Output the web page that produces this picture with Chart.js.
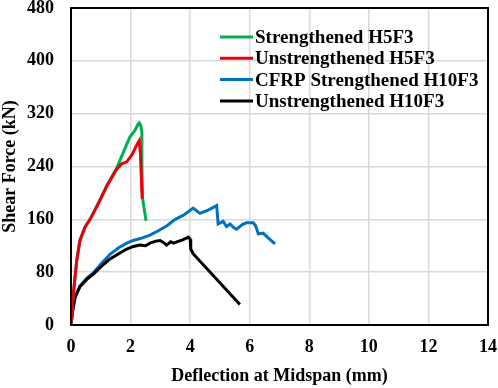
<!DOCTYPE html>
<html>
<head>
<meta charset="utf-8">
<script src="https://cdn.jsdelivr.net/npm/chart.js@4.4.1/dist/chart.umd.min.js"></script>
<style>
  body { margin: 0; background: #fff; }
  canvas { display: block; }
</style>
</head>
<body>
<canvas id="shearChart" width="498" height="388"></canvas>
<script>
// series labels + colours
const seriesNames = ["Strengthened H5F3", "Unstrengthened H5F3", "CFRP Strengthened H10F3", "Unstrengthened H10F3"];
const seriesColors = ["#00b050", "#e8000b", "#0070c0", "#000000"];
const drawOrder = [1, 0, 3, 2]; // red over green, black over blue

// deflection (mm) / shear force (kN)
const greenX = [0, 0.08, 0.19, 0.3, 0.47, 0.64, 0.9, 1.2, 1.53, 1.64, 1.98, 2.15, 2.25, 2.29, 2.34, 2.38, 2.38, 2.4, 2.46, 2.52];
const greenY = [0, 47, 97, 128, 148, 160, 183, 211, 237, 249, 285, 295, 304, 306, 302, 292, 240, 193, 175, 158];

const redX = [0, 0.08, 0.19, 0.3, 0.47, 0.64, 0.9, 1.2, 1.53, 1.7, 1.87, 2.05, 2.2, 2.29, 2.33, 2.36, 2.39];
const redY = [0, 47, 97, 128, 148, 160, 182, 210, 236, 244, 247, 258, 272, 279, 260, 225, 191];

const blueX = [0, 0.05, 0.13, 0.3, 0.53, 0.75, 1.0, 1.31, 1.6, 1.87, 2.09, 2.4, 2.65, 2.9, 3.21, 3.5, 3.8, 4.1, 4.33, 4.6, 4.78, 4.89, 4.94, 5.11, 5.22, 5.34, 5.45, 5.56, 5.75, 5.9, 6.12, 6.2, 6.29, 6.45, 6.62, 6.85];
const blueY = [0, 20, 41, 59, 71, 79, 92, 107, 117, 124, 128, 132, 136, 142, 150, 160, 167, 177, 169, 174, 178, 181, 153, 157, 149, 153, 148, 145, 152, 155, 155, 150, 138, 139, 132, 123];

const blackX = [0, 0.05, 0.13, 0.3, 0.53, 0.75, 1.0, 1.31, 1.6, 1.87, 2.1, 2.32, 2.5, 2.65, 2.85, 2.99, 3.1, 3.21, 3.35, 3.45, 3.55, 3.75, 3.94, 4.0, 4.02, 4.1, 5.67];
const blackY = [0, 20, 41, 58, 69, 77, 88, 100, 108, 115, 119, 121, 120, 124, 127, 128, 125, 121, 126, 124, 126, 129, 133, 130, 115, 108, 31];

const allX = [greenX, redX, blueX, blackX];
const allY = [greenY, redY, blueY, blackY];

const serif = "'Times New Roman', 'Liberation Serif', serif";

function toPoints(xs, ys) {
    return xs.map((x, i) => ({ x: x, y: ys[i] }));
}

// frame around plot + legend drawn inside the plot area
const framePlugin = {
    id: "frameAndLegend",
    afterDatasetsDraw(chart) {
        const ctx = chart.ctx;
        const a = chart.chartArea;
        ctx.save();
        ctx.strokeStyle = "#000";
        ctx.lineWidth = 2;
        ctx.strokeRect(a.left, a.top, a.right - a.left, a.bottom - a.top);

        const x0 = a.left + 149;
        const y0 = a.top + 29;
        ctx.font = "bold 19px " + serif;
        ctx.textBaseline = "middle";
        ctx.textAlign = "left";
        chart.data.datasets.forEach((ds, i) => {
            const y = y0 + i * 21.3;
            ctx.strokeStyle = ds.borderColor;
            ctx.lineWidth = 3;
            ctx.beginPath();
            ctx.moveTo(x0, y);
            ctx.lineTo(x0 + 33, y);
            ctx.stroke();
            ctx.fillStyle = "#000";
            ctx.fillText(ds.label, x0 + 35, y + 1);
        });
        ctx.restore();
    }
};

const datasets = seriesNames.map((name, i) => ({
    label: name,
    data: toPoints(allX[i], allY[i]),
    borderColor: seriesColors[i],
    backgroundColor: seriesColors[i],
    borderWidth: 3,
    showLine: true,
    pointRadius: 0,
    tension: 0,
    order: drawOrder[i]
}));

new Chart(document.getElementById("shearChart"), {
    type: "scatter",
    data: { datasets: datasets },
    options: {
        responsive: false,
        animation: false,
        layout: { padding: { top: 8, right: 10, left: 0, bottom: 0 } },
        plugins: {
            legend: { display: false },
            tooltip: { enabled: false }
        },
        scales: {
            x: {
                min: 0,
                max: 14,
                ticks: { stepSize: 2, color: "#000", padding: 12, font: { family: serif, size: 18, weight: "bold" } },
                grid: { color: "#d9d9d9", lineWidth: 1.5, drawTicks: false },
                border: { display: false },
                title: {
                    display: true,
                    text: "Deflection at Midspan (mm)",
                    color: "#000",
                    padding: { top: 0, bottom: 1 },
                    font: { family: serif, size: 18, weight: "bold" }
                },
                afterFit(scale) {
                    scale.height = 63;
                    scale.paddingLeft = 0;
                    scale.paddingRight = 0;
                }
            },
            y: {
                min: 0,
                max: 480,
                ticks: { stepSize: 80, color: "#000", padding: 17, font: { family: serif, size: 18, weight: "bold" } },
                grid: { color: "#d9d9d9", lineWidth: 1.5, drawTicks: false },
                border: { display: false },
                title: {
                    display: true,
                    text: "Shear Force (kN)",
                    color: "#000",
                    padding: { top: 0, bottom: 0 },
                    font: { family: serif, size: 18, weight: "bold" }
                },
                afterFit(scale) {
                    scale.width = 71;
                    scale.paddingTop = 0;
                    scale.paddingBottom = 0;
                }
            }
        }
    },
    plugins: [framePlugin]
});
</script>
</body>
</html>
